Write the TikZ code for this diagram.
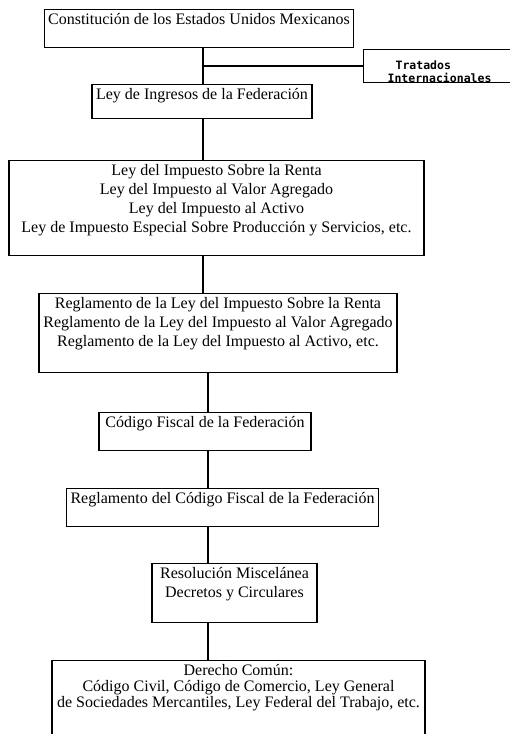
\documentclass[tikz,border=0pt]{standalone}
\usepackage{fontspec}
\setmainfont{Liberation Serif}
\newfontfamily\tratfont{DejaVu Sans Mono}
\newcommand{\fondo}[1]{\rule[-#1]{0pt}{#1}}

\begin{document}
\begin{tikzpicture}[x=1pt, y=-1pt, line width=1.2pt,
    caja/.style={draw, anchor=north, inner xsep=4pt, inner ysep=4pt, align=center,
        font=\fontsize{16}{19}\selectfont},
    tratados/.style={draw, anchor=west, inner xsep=24pt, inner ysep=0pt, text width=150pt,
        align=left, minimum height=32pt, font=\tratfont\bfseries\fontsize{11.5}{13}\selectfont}]
    \useasboundingbox (0,0) rectangle (509,734);
    \coordinate (ejeA) at (203,0);
    \coordinate (ejeB) at (208,0);
    \node[caja, minimum width=308pt] (constitucion) at (199,9) {Constitución de los Estados Unidos Mexicanos\fondo{19pt}};
    \node[tratados] (tratados) at (363,66) {\rule{0pt}{20pt}\hspace*{8pt}Tratados\\Internacionales};
    \node[caja, minimum width=220pt] (ingresos) at (202,84) {Ley de Ingresos de la Federación\fondo{15pt}};
    \node[caja, minimum width=415pt] (leyes) at (216.5,160) {Ley del Impuesto Sobre la Renta\\
        Ley del Impuesto al Valor Agregado\\
        Ley del Impuesto al Activo\\
        Ley de Impuesto Especial Sobre Producción y Servicios, etc.\fondo{19pt}};
    \node[caja, minimum width=358pt] (reglamentos) at (218,293) {Reglamento de la Ley del Impuesto Sobre la Renta\\
        Reglamento de la Ley del Impuesto al Valor Agregado\\
        Reglamento de la Ley del Impuesto al Activo, etc.\fondo{22pt}};
    \node[caja, minimum width=212pt] (codigo) at (205,412) {Código Fiscal de la Federación\fondo{19pt}};
    \node[caja, minimum width=309pt] (regcodigo) at (222.5,488) {Reglamento del Código Fiscal de la Federación\fondo{19pt}};
    \node[caja, minimum width=165pt] (miscelanea) at (234.5,563) {Resolución Miscelánea\\
        Decretos y Circulares\fondo{21pt}};
    \node[caja, minimum width=373pt, font=\fontsize{16}{16}\selectfont] (comun) at (238.5,660) {Derecho Común:\\
        Código Civil, Código de Comercio, Ley General\\
        de Sociedades Mercantiles, Ley Federal del Trabajo, etc.\fondo{40pt}};
    % lineas
    \draw (constitucion.south -| ejeA) -- (ingresos.north -| ejeA);
    \draw (tratados.west -| ejeA) -- (tratados.west);
    \draw (ingresos.south -| ejeA) -- (leyes.north -| ejeA);
    \draw (leyes.south -| ejeA) -- (reglamentos.north -| ejeA);
    \draw (reglamentos.south -| ejeB) -- (codigo.north -| ejeB);
    \draw (codigo.south -| ejeB) -- (regcodigo.north -| ejeB);
    \draw (regcodigo.south -| ejeB) -- (miscelanea.north -| ejeB);
    \draw (miscelanea.south -| ejeB) -- (comun.north -| ejeB);
\end{tikzpicture}
\end{document}
